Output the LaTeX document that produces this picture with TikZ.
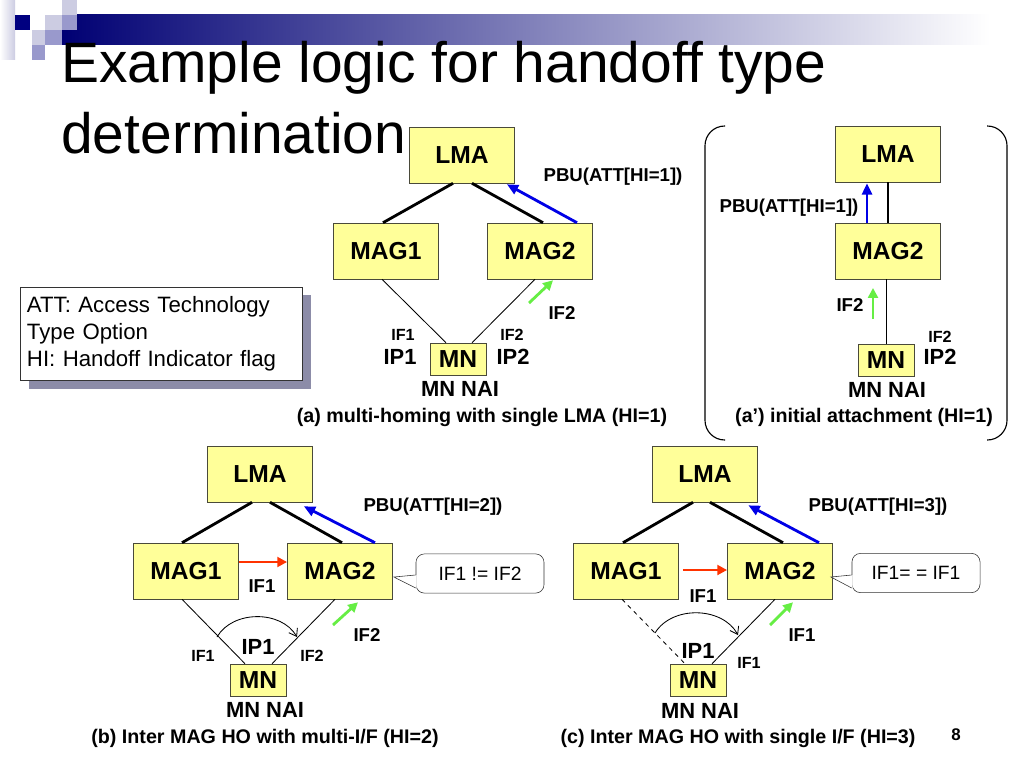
\documentclass[tikz,border=0pt]{standalone}
\usepackage{fontspec}
\setmainfont{Liberation Sans}
\usetikzlibrary{arrows.meta, positioning, calc, shadows}

\definecolor{boxfill}{HTML}{FFFF99}
\definecolor{boxline}{HTML}{4A4A3A}
\definecolor{pbublue}{HTML}{0000E6}
\definecolor{movegreen}{HTML}{66EE44}
\definecolor{fwdred}{HTML}{FF3300}
\definecolor{navy}{HTML}{000080}
\definecolor{lavA}{HTML}{CCCCE2}
\definecolor{lavB}{HTML}{9999CC}
\definecolor{shadowgray}{HTML}{8C8CA8}

\begin{document}
\begin{tikzpicture}[x=0.025cm, y=-0.025cm,
  box/.style={draw=boxline, fill=boxfill, minimum width=2.63cm, minimum height=1.4cm, inner sep=0pt, font=\fontsize{17.5}{20}\selectfont\bfseries},
  mnbox/.style={box, minimum width=1.4cm, minimum height=0.8cm},
  pbu/.style={font=\fontsize{13.25}{15}\selectfont\bfseries, inner sep=0pt},
  iflbl/.style={font=\fontsize{11.5}{13}\selectfont\bfseries, inner sep=0pt},
  iplbl/.style={font=\fontsize{15.6}{18}\selectfont\bfseries, inner sep=0pt},
  caption/.style={font=\fontsize{14}{16}\selectfont\bfseries, inner sep=0pt},
  trunk/.style={line width=2pt},
  access/.style={line width=0.6pt},
  pbuarrow/.style={line width=2pt, pbublue, -{Triangle[length=8pt, width=7pt]}},
  movearrow/.style={line width=2pt, movegreen, -{Triangle[length=7pt, width=7pt]}},
  fwdarrow/.style={line width=2pt, fwdred, -{Triangle[length=7pt, width=7pt]}},
  hoarrow/.style={line width=0.6pt, -{Straight Barb[length=5pt, width=7pt]}},
  callbox/.style={draw=black!80, rounded corners=6pt, fill=white, minimum width=3.2cm, minimum height=0.98cm, font=\fontsize{13.7}{16}\selectfont}]

  \fill[white] (0,0) rectangle (1024,768);
  \useasboundingbox (0,0) rectangle (1024,768);

  % Title bar and squares
  \shade[left color=navy!90!black, middle color=shadowgray, right color=white] (62,15) rectangle (990,45);
  \shade[left color=white, right color=lavA] (0,0) rectangle (15,60);
  \fill[navy] (15,15) rectangle (30,30);
  \fill[lavA] (62,0) rectangle (77,15);
  \fill[lavA] (45,15) rectangle (62,30);
  \fill[lavB] (62,15) rectangle (77,30);
  \fill[lavA] (32,30) rectangle (45,45);
  \fill[lavB] (45,30) rectangle (62,45);
  \fill[lavB] (32,45) rectangle (45,60);

  \node[anchor=base west, inner sep=0pt, font=\fontsize{40.5}{48}\selectfont] (title1) at (61,83) {Example logic for handoff type};
  \node[anchor=base west, inner sep=0pt, font=\fontsize{40.5}{48}\selectfont] (title2) at (61,153) {determination};

  % Legend
  \node[draw=black!80, fill=white, minimum width=7.05cm, minimum height=2.33cm, align=left, text width=6.7cm,
        font=\fontsize{15.8}{19.2}\selectfont,
        drop shadow={shadow xshift=0.22cm, shadow yshift=-0.2cm, fill=shadowgray, opacity=1}]
        (legend) at (161,334) {ATT: Access Technology\\Type Option\\HI: Handoff Indicator flag};

  % (a) multi-homing with single LMA
  \node[box] (lmaA) at (462,155) {LMA};
  \node[box] (magA1) at (386,251) {MAG1};
  \node[box] (magA2) at (540,251) {MAG2};
  \node[mnbox] (mnA) at (458,359) {MN};
  \draw[trunk] ($(lmaA.south)+(-9,0)$) -- ($(magA1.north)+(-3,0)$);
  \draw[trunk] ($(lmaA.south)+(10,0)$) -- ($(magA2.north)+(3,0)$);
  \draw[pbuarrow] ($(magA2.north)+(37,0)$) -- ($(lmaA.south east)+(-8,1)$);
  \draw[access] ($(magA1.south)+(-4,0)$) -- ($(mnA.north)+(-12,0)$);
  \draw[access] ($(magA2.south)+(-5,0)$) -- ($(mnA.north)+(14,0)$);
  \coordinate (ifA) at (529,303);
  \draw[movearrow] (ifA) -- ($(magA2.south)+(13,1)$);
  \node[pbu] (pbuA) at (613,177) {PBU(ATT[HI=1])};
  \node[pbu] (ifgA) at (562,313) {IF2};
  \node[iflbl] (if1A) at (403,335) {IF1};
  \node[iflbl] (if2A) at (512,335) {IF2};
  \node[iplbl] (ip1A) at (400,357) {IP1};
  \node[iplbl] (ip2A) at (513,357) {IP2};
  \node[iplbl] (naiA) at (460,389) {MN NAI};
  \node[caption] (capA) at (482,417) {(a) multi-homing with single LMA (HI=1)};

  % (a') initial attachment
  \draw[line width=0.8pt, rounded corners=14pt] (725,126) -- (705,126) -- (705,440) -- (725,440);
  \draw[line width=0.8pt, rounded corners=14pt] (987,126) -- (1007,126) -- (1007,440) -- (987,440);
  \node[box] (lmaP) at (888,154) {LMA};
  \node[box] (magP) at (888,251) {MAG2};
  \node[mnbox] (mnP) at (886,360) {MN};
  \draw[trunk] (lmaP.south) -- (magP.north);
  \draw[pbuarrow] ($(magP.north)+(-21,0)$) -- ($(lmaP.south)+(-21,1)$);
  \draw[access] (mnP.north) -- (mnP.north |- magP.south);
  \coordinate (ifP) at (873,319);
  \draw[movearrow] (ifP) -- ++(0,-31);
  \node[pbu] (pbuP) at (789,208) {PBU(ATT[HI=1])};
  \node[pbu] (ifgP) at (850,305) {IF2};
  \node[iflbl] (if2P) at (940,337) {IF2};
  \node[iplbl] (ip2P) at (940,357) {IP2};
  \node[iplbl] (naiP) at (887,390) {MN NAI};
  \node[caption] (capP) at (864,417) {(a’) initial attachment (HI=1)};

  % (b) Inter MAG HO with multi-I/F
  \node[box] (lmaB) at (260,474) {LMA};
  \node[box] (magB1) at (186,571) {MAG1};
  \node[box] (magB2) at (340,571) {MAG2};
  \node[mnbox] (mnB) at (258,680) {MN};
  \draw[trunk] ($(lmaB.south)+(-8,0)$) -- ($(magB1.north)+(-4,0)$);
  \draw[trunk] ($(lmaB.south)+(10,0)$) -- ($(magB2.north)+(2,0)$);
  \draw[pbuarrow] ($(magB2.north)+(35,0)$) -- ($(lmaB.south east)+(-9,4)$);
  \draw[fwdarrow] ($(magB1.east)+(0,-9)$) -- ($(magB2.west)+(0,-9)$);
  \draw[access] ($(magB1.south)+(-4,0)$) -- ($(mnB.north)+(-13,0)$);
  \draw[access] ($(magB2.south)+(-5,0)$) -- ($(mnB.north)+(14,0)$);
  \coordinate (hoB1) at (217,637);
  \coordinate (hoB2) at (297,637);
  \draw[hoarrow] (hoB1) to[bend left=60] (hoB2);
  \coordinate (ifB) at (333,625);
  \draw[movearrow] (ifB) -- ($(magB2.south)+(18,3)$);
  \node[pbu] (pbuB) at (433,507) {PBU(ATT[HI=2])};
  \node[pbu] (ifrB) at (262,586) {IF1};
  \node[pbu] (ifgB) at (367,635) {IF2};
  \node[iplbl] (ip1B) at (258,647) {IP1};
  \node[iflbl] (if1B) at (203,656) {IF1};
  \node[iflbl] (if2B) at (312,656) {IF2};
  \node[iplbl] (naiB) at (265,710) {MN NAI};
  \node[caption] (capB) at (265,738) {(b) Inter MAG HO with multi-I/F (HI=2)};
  \node[callbox] (callB) at (480,573.5) {IF1 != IF2};
  \coordinate (tipB) at ($(magB2.east)+(1,6)$);
  \fill[white] ($(callB.west)+(1,1.5)$) -- (tipB) -- ($(callB.west)+(1,14.5)$) -- cycle;
  \draw[black!80] ($(callB.west)+(0,1.5)$) -- (tipB) -- ($(callB.west)+(0,14.5)$);

  % (c) Inter MAG HO with single I/F
  \node[box] (lmaC) at (705,474) {LMA};
  \node[box] (magC1) at (626,571) {MAG1};
  \node[box] (magC2) at (780,571) {MAG2};
  \node[mnbox] (mnC) at (698,680) {MN};
  \draw[trunk] ($(lmaC.south)+(-12,0)$) -- ($(magC1.north)+(-3,0)$);
  \draw[trunk] ($(lmaC.south)+(5,0)$) -- ($(magC2.north)+(3,0)$);
  \draw[pbuarrow] ($(magC2.north)+(39,0)$) -- ($(lmaC.south east)+(-9.5,3)$);
  \draw[fwdarrow] ($(magC1.east)+(4,-1)$) -- ($(magC2.west)+(0,-1)$);
  \draw[access, dashed] ($(magC1.south)+(-4,0)$) -- ($(mnC.north)+(-13,0)$);
  \draw[access] ($(magC2.south)+(-5,0)$) -- ($(mnC.north)+(14,0)$);
  \coordinate (hoC1) at (655,633);
  \coordinate (hoC2) at (738,635);
  \draw[hoarrow] (hoC1) to[bend left=60] (hoC2);
  \coordinate (ifC) at (770,625);
  \draw[movearrow] (ifC) -- ($(magC2.south)+(13,3)$);
  \node[pbu] (pbuC) at (878,507) {PBU(ATT[HI=3])};
  \node[pbu] (ifrC) at (703,596) {IF1};
  \node[pbu] (ifgC) at (802,635) {IF1};
  \node[iplbl] (ip1C) at (698,651) {IP1};
  \node[iflbl] (if1C) at (749,663) {IF1};
  \node[iplbl] (naiC) at (700,711) {MN NAI};
  \node[caption] (capC) at (738,738) {(c) Inter MAG HO with single I/F (HI=3)};
  \node[callbox] (callC) at (916,573) {IF1= = IF1};
  \coordinate (tipC) at ($(magC2.east)+(-2,6)$);
  \fill[white] ($(callC.west)+(1,2)$) -- (tipC) -- ($(callC.west)+(1,15)$) -- cycle;
  \draw[black!80] ($(callC.west)+(0,2)$) -- (tipC) -- ($(callC.west)+(0,15)$);

  \node[font=\fontsize{12}{14}\selectfont\bfseries, inner sep=0pt] (pagenum) at (956,735) {8};
\end{tikzpicture}
\end{document}
